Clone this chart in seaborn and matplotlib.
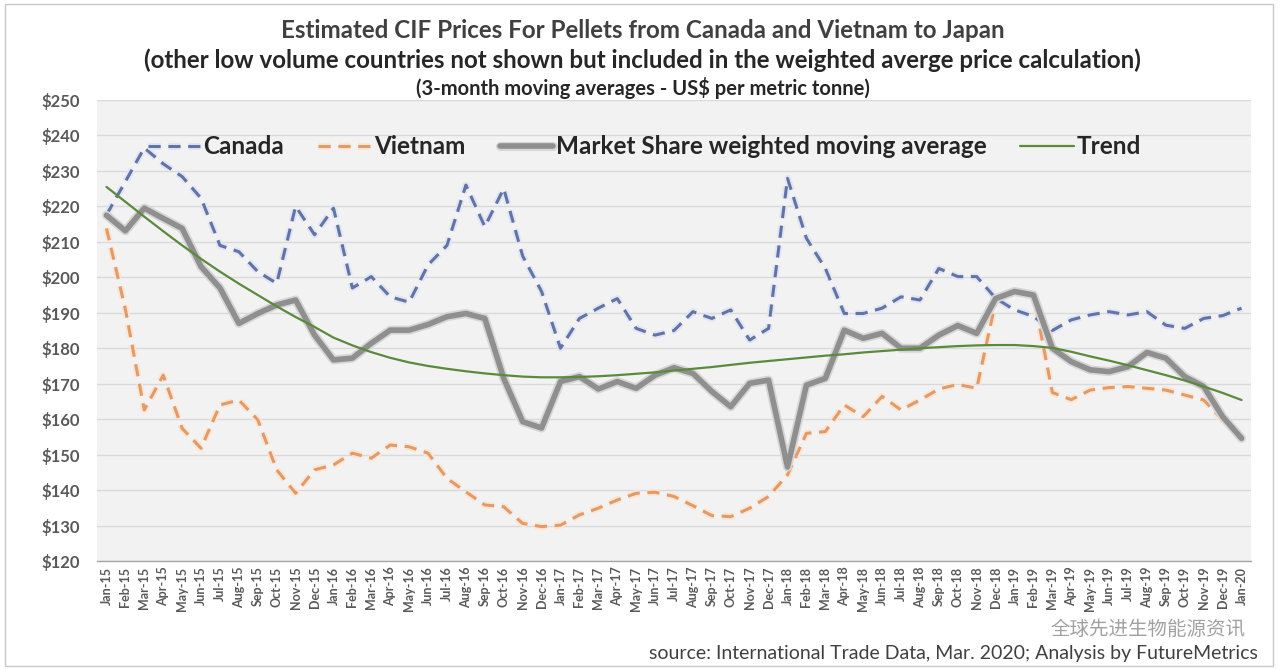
import numpy as np
import pandas as pd
import matplotlib
matplotlib.use("Agg")
import matplotlib.pyplot as plt
import matplotlib.patheffects as pe
from matplotlib.patches import Rectangle
import seaborn as sns

# monthly categories Jan-15 .. Jan-20
month_names = ["Jan", "Feb", "Mar", "Apr", "May", "Jun",
               "Jul", "Aug", "Sep", "Oct", "Nov", "Dec"]
months = [f"{m}-{y}" for y in range(15, 20) for m in month_names] + ["Jan-20"]

canada = [217.6, 227.0, 236.5, 232.0, 228.4, 222.3, 209.0, 207.2, 201.6, 198.3,
          220.0, 212.0, 219.5, 197.0, 200.2, 194.5, 193.0, 203.5, 209.0, 226.0,
          214.3, 225.0, 206.0, 196.0, 180.0, 188.4, 191.3, 194.0, 185.6, 183.7,
          185.0, 190.3, 188.4, 190.8, 182.3, 185.6, 227.9, 211.0, 202.5, 189.8,
          189.8, 191.3, 194.5, 193.6, 202.5, 200.2, 200.2, 194.1, 190.8, 189.0,
          185.0, 188.0, 189.4, 190.3, 189.4, 190.3, 186.5, 185.6, 188.4, 189.2,
          191.3]

vietnam = [213.8, 191.0, 162.6, 172.4, 157.4, 151.8, 164.0, 165.4, 159.8, 145.7,
           139.1, 145.7, 147.1, 150.4, 149.0, 152.7, 152.2, 150.4, 143.3, 139.5,
           135.8, 135.3, 130.6, 129.7, 130.1, 133.0, 134.9, 137.2, 139.1, 139.4,
           138.2, 135.6, 132.8, 132.5, 134.9, 138.2, 144.3, 156.0, 156.5, 164.0,
           160.7, 166.4, 162.6, 165.4, 168.5, 169.8, 168.7, 193.0, 196.0, 195.0,
           167.5, 165.5, 168.2, 168.9, 169.2, 168.7, 168.2, 166.8, 165.4, 159.8,
           155.5]

market_share = [217.5, 213.1, 219.5, 216.6, 213.8, 203.0, 197.0, 187.0, 189.8, 192.2,
                193.6, 183.7, 176.7, 177.2, 181.4, 185.1, 185.1, 186.7, 188.9, 189.8,
                188.4, 171.5, 159.3, 157.5, 170.6, 172.0, 168.5, 170.6, 168.7, 172.4,
                174.5, 172.9, 167.8, 163.5, 170.1, 171.0, 146.5, 169.6, 171.5, 185.1,
                182.8, 184.2, 180.0, 180.0, 183.7, 186.4, 184.2, 194.0, 196.0, 195.0,
                180.0, 176.2, 173.9, 173.4, 174.8, 178.8, 177.2, 172.0, 169.2, 160.7,
                154.6]

trend = [225.5, 221.3, 217.1, 213.0, 209.0, 205.2, 201.6, 198.2, 195.0, 191.8,
         188.8, 186.0, 183.0, 180.8, 178.9, 177.3, 176.0, 175.0, 174.2, 173.5,
         172.9, 172.4, 172.0, 171.8, 171.8, 171.9, 172.1, 172.4, 172.8, 173.2,
         173.7, 174.2, 174.7, 175.3, 175.9, 176.4, 176.9, 177.4, 177.9, 178.3,
         178.8, 179.2, 179.6, 180.0, 180.3, 180.6, 180.8, 180.9, 180.9, 180.6,
         180.1, 179.0, 177.7, 176.5, 175.2, 173.8, 172.4, 170.9, 169.2, 167.4,
         165.4]

df = pd.DataFrame({"idx": np.arange(len(months)), "month": months,
                   "Canada": canada, "Vietnam": vietnam,
                   "Market": market_share, "Trend": trend})

sns.set_theme(style="white")
plt.rcParams["font.family"] = ["Lato", "DejaVu Sans"]

fig = plt.figure(figsize=(12.85, 6.69), dpi=100)
fig.patch.set_facecolor("white")
ax = fig.add_axes([97 / 1285, 1 - 561 / 669, (1251 - 97) / 1285, (561 - 100) / 669])
ax.set_facecolor("#f2f2f2")

# lines (drawn bottom to top like the original)
sns.lineplot(data=df, x="idx", y="Vietnam", ax=ax, color="#e49a66", linewidth=2.2,
             linestyle=(0, (4, 2.5)), label="Vietnam",
             path_effects=[pe.Stroke(linewidth=5, foreground="#fbe6d6"), pe.Normal()])
sns.lineplot(data=df, x="idx", y="Canada", ax=ax, color="#6373a5", linewidth=2.2,
             linestyle=(0, (4, 2.5)), label="Canada",
             path_effects=[pe.Stroke(linewidth=5, foreground="#dfe6f4"), pe.Normal()])
sns.lineplot(data=df, x="idx", y="Market", ax=ax, color="#8f8f8f", linewidth=4,
             label="Market Share weighted moving average",
             path_effects=[pe.Stroke(linewidth=6.5, foreground="#d6d6d6"), pe.Normal()])
sns.lineplot(data=df, x="idx", y="Trend", ax=ax, color="#5a8a3c", linewidth=1.6,
             label="Trend")

ax.set_xlim(-0.5, len(months) - 0.5)
ax.set_ylim(120, 250)
ax.set_yticks(np.arange(120, 251, 10))
ax.set_yticklabels([f"${v}" for v in range(120, 251, 10)], fontsize=12,
                   fontweight="bold", color="#595959")
ax.set_xticks(df["idx"])
ax.set_xticklabels(months, rotation=90, fontsize=9, fontweight="bold",
                   color="#595959")
ax.set_xticks(np.arange(-0.5, len(months), 1), minor=True)
ax.tick_params(axis="x", which="major", length=0, pad=4)
ax.tick_params(axis="x", which="minor", length=7, direction="inout",
               color="#a6a6a6", width=1)
ax.tick_params(axis="y", length=0, pad=12)
ax.set_xlabel("")
ax.set_ylabel("")

ax.grid(axis="y", color="#d9d9d9", linewidth=1)
ax.set_axisbelow(True)
for s in ["top", "right", "left"]:
    ax.spines[s].set_visible(False)
ax.spines["bottom"].set_color("#a6a6a6")
ax.spines["bottom"].set_linewidth(1)

handles, labels = ax.get_legend_handles_labels()
order = [labels.index(n) for n in ["Canada", "Vietnam",
                                   "Market Share weighted moving average", "Trend"]]
leg = ax.legend([handles[i] for i in order], [labels[i] for i in order],
                ncol=4, frameon=False, loc="center left",
                bbox_to_anchor=((138 - 97) / (1251 - 97), 1 - (147 - 100) / 461),
                prop={"family": "Lato", "weight": "bold", "size": 17.5},
                handlelength=2.2, handletextpad=0.1, columnspacing=1.4,
                labelcolor="#262626", borderaxespad=0)

# titles
fig.text(0.5, 1 - 30 / 669, "Estimated CIF Prices For Pellets from Canada and Vietnam to Japan",
         ha="center", va="center", fontsize=17.4, fontweight="bold", color="#404040")
fig.text(0.5, 1 - 60 / 669,
         "(other low volume countries not shown but included in the weighted averge price calculation)",
         ha="center", va="center", fontsize=17.4, fontweight="bold", color="#262626")
fig.text(0.5, 1 - 88 / 669, "(3-month moving averages - US$ per metric tonne)",
         ha="center", va="center", fontsize=14.5, fontweight="bold", color="#262626")

# source note and watermark
fig.text(1258 / 1285, 1 - 653 / 669,
         "source: International Trade Data, Mar. 2020; Analysis by FutureMetrics",
         ha="right", va="center", fontsize=14, color="#404040")
fig.text(1245 / 1285, 1 - 629 / 669, "全球先进生物能源资讯", ha="right", va="center",
         fontsize=14, color="#8a8a8a", alpha=0.8,
         family=["Noto Sans CJK SC", "DejaVu Sans"])

fig.patches.append(Rectangle((5 / 1285, 3 / 669), 1268 / 1285, 662 / 669,
                             transform=fig.transFigure, fill=False,
                             edgecolor="#c8c8c8", linewidth=1))

fig.savefig("out.png", dpi=100)
